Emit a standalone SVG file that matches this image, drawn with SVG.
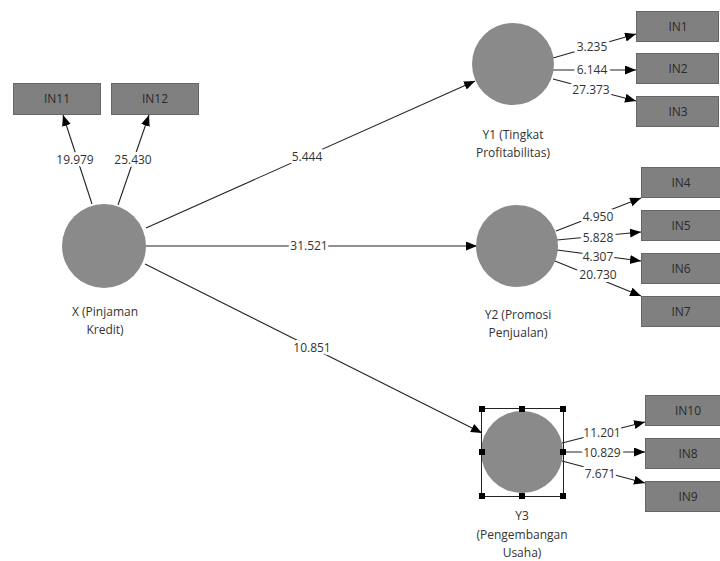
<svg xmlns="http://www.w3.org/2000/svg" width="720" height="561" viewBox="0 0 720 561">
<style>
text{font-family:"Open Sans","Noto Sans","Liberation Sans",sans-serif;font-size:12px;fill:#333;text-anchor:middle}
.lv{fill:#8a8a8a}
.ind{fill:#808080;stroke:#666;stroke-width:1}
.ind-t{fill:#2a2a2a}
.c line{stroke:#222;stroke-width:1.1;marker-end:url(#ah)}
.lbl{stroke:#fff;stroke-width:6;paint-order:stroke;stroke-linejoin:round}
.h{fill:#000}
</style>
<defs>
<marker id="ah" markerUnits="userSpaceOnUse" markerWidth="11" markerHeight="10" refX="11" refY="4.5" orient="auto">
<path d="M0,0 L11,4.5 L0,9 z" fill="#000"/>
</marker>
</defs>
<g id="connectors" class="c">
<line x1="92" y1="204" x2="63" y2="115"/>
<line x1="118" y1="205" x2="149" y2="115"/>
<line x1="146" y1="228" x2="475" y2="81"/>
<line x1="146" y1="246" x2="477" y2="246"/>
<line x1="145" y1="264" x2="482" y2="433"/>
<line x1="553" y1="58" x2="636" y2="34"/>
<line x1="553" y1="70" x2="636" y2="70"/>
<line x1="553" y1="79" x2="636" y2="101"/>
<line x1="556" y1="231" x2="641" y2="198"/>
<line x1="557" y1="240" x2="641" y2="232"/>
<line x1="557" y1="250" x2="641" y2="261"/>
<line x1="555" y1="261" x2="641" y2="296"/>
<line x1="562" y1="443" x2="645" y2="422"/>
<line x1="563" y1="452" x2="645" y2="452"/>
<line x1="562" y1="461" x2="645" y2="483"/>
</g>
<g id="labels">
<text class="lbl" x="75" y="164">19.979</text>
<text class="lbl" x="133" y="164">25.430</text>
<text class="lbl" x="307" y="161">5.444</text>
<text class="lbl" x="309" y="250">31.521</text>
<text class="lbl" x="312" y="352">10.851</text>
<text class="lbl" x="592" y="51">3.235</text>
<text class="lbl" x="592" y="74">6.144</text>
<text class="lbl" x="591" y="94">27.373</text>
<text class="lbl" x="598" y="221">4.950</text>
<text class="lbl" x="598" y="242">5.828</text>
<text class="lbl" x="598" y="261">4.307</text>
<text class="lbl" x="598" y="279">20.730</text>
<text class="lbl" x="602" y="437">11.201</text>
<text class="lbl" x="602" y="457">10.829</text>
<text class="lbl" x="600" y="478">7.671</text>
</g>
<g id="X">
<circle class="lv" cx="104" cy="246" r="42"/>
<text x="105" y="316">X (Pinjaman</text>
<text x="105" y="334">Kredit)</text>
</g>
<g id="Y1">
<circle class="lv" cx="513" cy="64" r="41"/>
<text x="513" y="139">Y1 (Tingkat</text>
<text x="513" y="157">Profitabilitas)</text>
</g>
<g id="Y2">
<circle class="lv" cx="517" cy="246" r="41"/>
<text x="518" y="319">Y2 (Promosi</text>
<text x="518" y="337">Penjualan)</text>
</g>
<g id="Y3">
<circle class="lv" cx="522" cy="452" r="41"/>
<rect x="481.5" y="408.5" width="82" height="88" fill="none" stroke="#222" stroke-width="1"/>
<rect class="h" x="479" y="406" width="6" height="6"/>
<rect class="h" x="519" y="406" width="6" height="6"/>
<rect class="h" x="560" y="406" width="6" height="6"/>
<rect class="h" x="479" y="449" width="6" height="6"/>
<rect class="h" x="560" y="449" width="6" height="6"/>
<rect class="h" x="479" y="493" width="6" height="6"/>
<rect class="h" x="519" y="493" width="6" height="6"/>
<rect class="h" x="560" y="493" width="6" height="6"/>
<text x="522" y="520">Y3</text>
<text x="522" y="539">(Pengembangan</text>
<text x="522" y="557">Usaha)</text>
</g>
<g id="IN11"><rect class="ind" x="13.5" y="83.5" width="87" height="31"/><text class="ind-t" x="57" y="103">IN11</text></g>
<g id="IN12"><rect class="ind" x="111.5" y="83.5" width="87" height="31"/><text class="ind-t" x="155" y="103">IN12</text></g>
<g id="IN1"><rect class="ind" x="636.5" y="11.5" width="82" height="30"/><text class="ind-t" x="678" y="31">IN1</text></g>
<g id="IN2"><rect class="ind" x="636.5" y="53.5" width="82" height="30"/><text class="ind-t" x="678" y="73">IN2</text></g>
<g id="IN3"><rect class="ind" x="636.5" y="96.5" width="82" height="30"/><text class="ind-t" x="678" y="116">IN3</text></g>
<g id="IN4"><rect class="ind" x="641.5" y="167.5" width="80" height="30"/><text class="ind-t" x="681" y="187">IN4</text></g>
<g id="IN5"><rect class="ind" x="641.5" y="210.5" width="80" height="30"/><text class="ind-t" x="681" y="230">IN5</text></g>
<g id="IN6"><rect class="ind" x="641.5" y="253.5" width="80" height="30"/><text class="ind-t" x="681" y="273">IN6</text></g>
<g id="IN7"><rect class="ind" x="641.5" y="296.5" width="80" height="30"/><text class="ind-t" x="681" y="316">IN7</text></g>
<g id="IN10"><rect class="ind" x="645.5" y="395.5" width="76" height="30"/><text class="ind-t" x="688" y="415">IN10</text></g>
<g id="IN8"><rect class="ind" x="645.5" y="438.5" width="76" height="30"/><text class="ind-t" x="688" y="458">IN8</text></g>
<g id="IN9"><rect class="ind" x="645.5" y="481.5" width="76" height="30"/><text class="ind-t" x="688" y="501">IN9</text></g>
</svg>
